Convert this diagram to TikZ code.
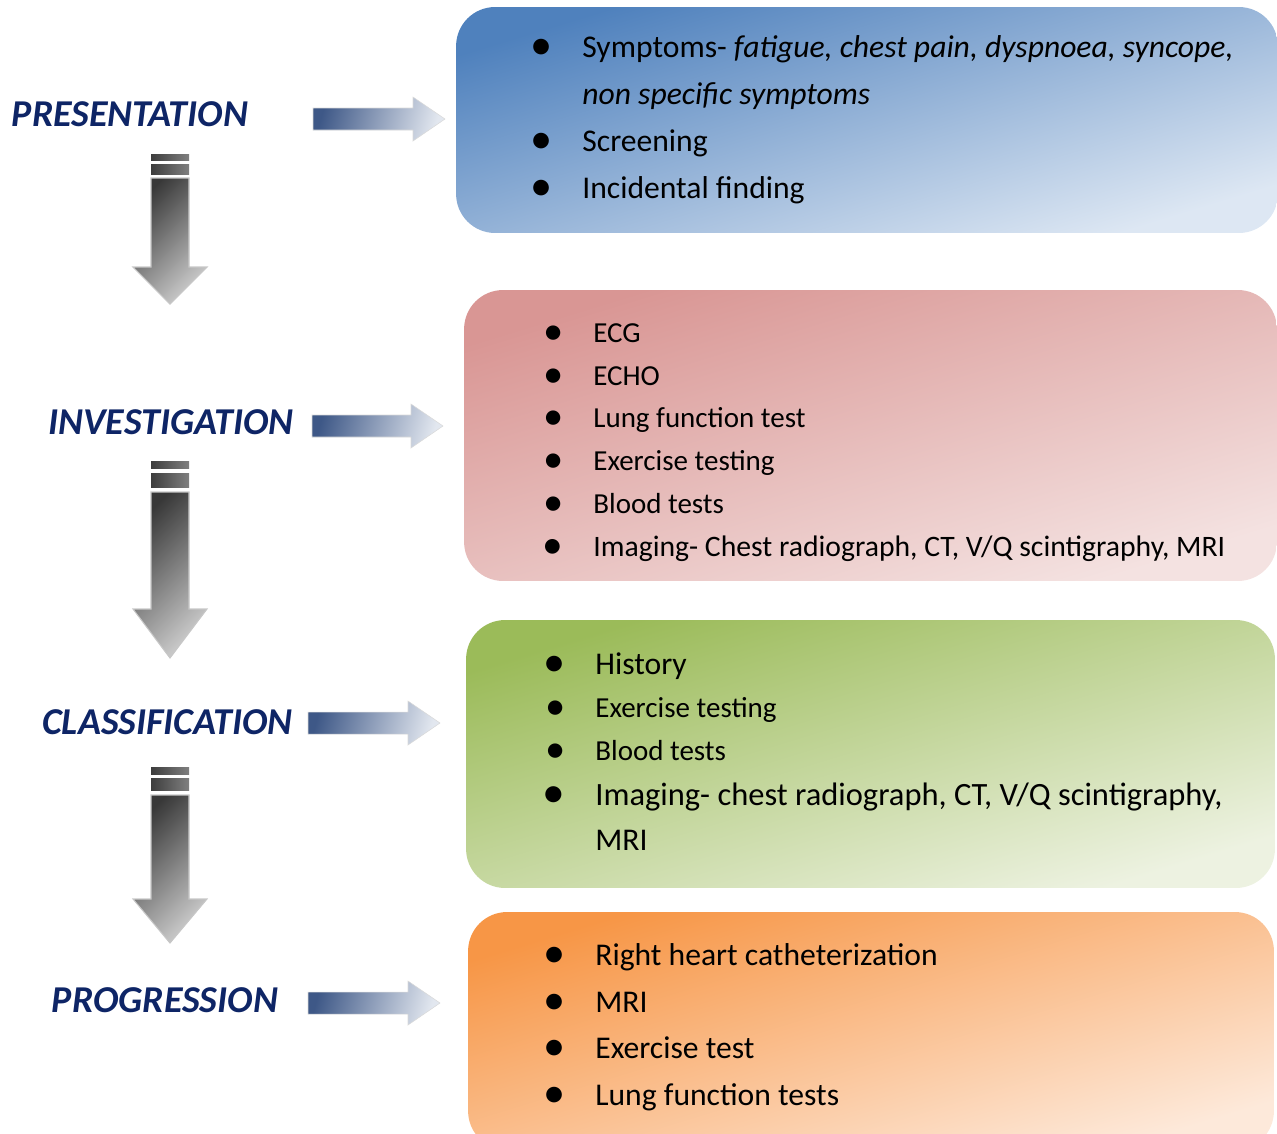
\documentclass[tikz,border=0pt]{standalone}
\usepackage{fontspec}
\setmainfont{Carlito}
\usepackage{tikz}

\definecolor{stagenavy}{HTML}{0E2566}
\definecolor{blueA}{HTML}{4F81BD}\definecolor{blueB}{HTML}{DDE7F3}
\definecolor{redA}{HTML}{D99694}\definecolor{redB}{HTML}{F4E2E1}
\definecolor{greenA}{HTML}{9BBB59}\definecolor{greenB}{HTML}{EDF2E1}
\definecolor{orangeA}{HTML}{F79646}\definecolor{orangeB}{HTML}{FDE9DA}
\definecolor{arrA}{HTML}{3E5887}\definecolor{arrB}{HTML}{E2E7EF}

\newcommand{\bul}{\llap{\raisebox{-1.6pt}{\scalebox{1.4}{•}}\hspace{17pt}}}

\begin{document}
\begin{tikzpicture}[x=0.02cm, y=-0.02cm,
  stage/.style={anchor=base, inner sep=0pt, text=stagenavy, font=\fontsize{21.6}{26}\selectfont\bfseries\itshape},
  itm/.style={anchor=base west, inner sep=0pt, font=\fontsize{18}{22}\selectfont},
  itmsmall/.style={itm, font=\fontsize{16.5}{20}\selectfont},
  panel/.style 2 args={rounded corners=0.78cm, inner sep=0pt, top color=#1, bottom color=#2, shading angle=17}]
  \useasboundingbox (0,0) rectangle (1277,1133);
  \clip (0,0) rectangle (1277,1133);

  % panels
  \node[panel={blueA}{blueB}, minimum width=16.44cm, minimum height=4.52cm] (bpres) at (867,120) {};
  \node[panel={redA}{redB}, minimum width=16.26cm, minimum height=5.82cm] (binv) at (870.5,435.5) {};
  \node[panel={greenA}{greenB}, minimum width=16.18cm, minimum height=5.36cm] (bcls) at (870.5,754) {};
  \node[panel={orangeA}{orangeB}, minimum width=16.12cm, minimum height=4.76cm] (bprog) at (871,1031) {};

  % stage labels
  \node[stage] (pres) at (130,126) {PRESENTATION};
  \node[stage] (inv) at (171,434) {INVESTIGATION};
  \node[stage] (cls) at (167.5,734) {CLASSIFICATION};
  \node[stage] (prog) at (165,1012) {PROGRESSION};

  % block arrows to the right
  \foreach \xa/\yc/\xt in {313/119/445, 312/426/443, 308/723/440, 308/1003/440}
    \shade[top color=arrA, bottom color=arrB, shading angle=75, draw=white!85!black, line width=0.3pt]
      (\xa,\yc-11) -- (\xt-32,\yc-11) -- (\xt-32,\yc-22) -- (\xt,\yc) -- (\xt-32,\yc+22)
      -- (\xt-32,\yc+11) -- (\xa,\yc+11) -- cycle;

  % block arrows down, with two stripes on top
  \foreach \a/\b/\c/\d/\e/\f/\g in {154/160/164/174/178/267/304, 461/468/473/487/492/609/658, 767/774/778/790/795/899/943}{
    \shade[left color=black!76, right color=black!50] (151,\a) rectangle (189,\b);
    \shade[left color=black!76, right color=black!50] (151,\c) rectangle (189,\d);
    \shade[top color=black!78, bottom color=black!20, shading angle=45, draw=white!78!black, line width=0.6pt]
      (151,\e) -- (189,\e) -- (189,\f) -- (207,\f) -- (170,\g) -- (133,\f) -- (151,\f) -- cycle;
  }

  % presentation
  \node[itm] (p1) at (582,57) {\bul Symptoms- \textit{fatigue, chest pain, dyspnoea, syncope,}};
  \node[itm] (p2) at (582,104) {\textit{non specific symptoms}};
  \node[itm] (p3) at (582,151) {\bul Screening};
  \node[itm] (p4) at (582,198) {\bul Incidental finding};

  % investigation
  \node[itmsmall] (i1) at (593,342) {\bul ECG};
  \node[itmsmall] (i2) at (593,385) {\bul ECHO};
  \node[itmsmall] (i3) at (593,427) {\bul Lung function test};
  \node[itmsmall] (i4) at (593,470) {\bul Exercise testing};
  \node[itmsmall] (i5) at (593,513) {\bul Blood tests};
  \node[itmsmall, font=\fontsize{16.9}{20}\selectfont] (i6) at (593,556) {\bul Imaging- Chest radiograph, CT, V/Q scintigraphy, MRI};

  % classification
  \node[itm] (c1) at (595,674) {\bul History};
  \node[itmsmall] (c2) at (595,717) {\bul Exercise testing};
  \node[itmsmall] (c3) at (595,760) {\bul Blood tests};
  \node[itm, font=\fontsize{18.5}{22}\selectfont] (c4) at (595,805) {\bul Imaging- chest radiograph, CT, V/Q scintigraphy,};
  \node[itm] (c5) at (595,850) {MRI};

  % progression
  \node[itm] (g1) at (595,965) {\bul Right heart catheterization};
  \node[itm] (g2) at (595,1012) {\bul MRI};
  \node[itm] (g3) at (595,1058) {\bul Exercise test};
  \node[itm] (g4) at (595,1105) {\bul Lung function tests};
\end{tikzpicture}
\end{document}
